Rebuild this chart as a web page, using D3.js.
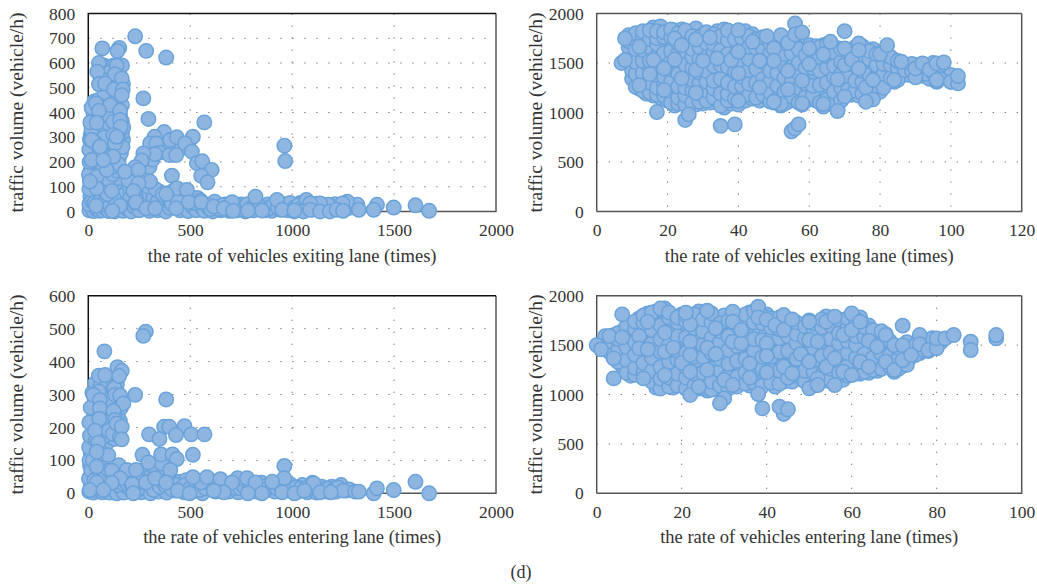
<!DOCTYPE html>
<html>
<head>
<meta charset="utf-8">
<script src="https://cdn.jsdelivr.net/npm/d3@7"></script>
<style>
  html, body { margin: 0; background: #fff; }
  svg text { font-family: "Liberation Serif", serif; fill: #333; }
</style>
</head>
<body>
<div id="chart"></div>
<script>
// tick labels
var ticksRateWide = [0, 500, 1000, 1500, 2000];
var ticksExitRate = [0, 20, 40, 60, 80, 100, 120];
var ticksEnterRate = [0, 20, 40, 60, 80, 100];
var ticksLowExit = [0, 100, 200, 300, 400, 500, 600, 700, 800];
var ticksLowEnter = [0, 100, 200, 300, 400, 500, 600];
var ticksVolume = [0, 500, 1000, 1500, 2000];

// top left panel, [rate, volume]
var exitLowBack = [
  [10,60],[22,75],[35,55],[48,70],[60,62],[15,100],[30,110],[45,95],[8,130],[25,140],[50,125],[65,115],
  [12,165],[28,170],[44,180],[60,160],[78,150],[18,200],[35,210],[52,195],[70,190],[90,170],[110,205],[130,190],[150,215],
  [15,235],[32,245],[48,255],[66,240],[85,230],[105,250],[125,240],[145,255],[160,235],
  [22,270],[40,285],[58,295],[76,270],[95,290],[115,280],[135,270],[155,285],[170,290],
  [12,310],[30,325],[50,335],[68,315],[88,330],[108,320],[128,340],[150,330],[165,315],
  [20,355],[38,375],[60,350],[80,370],[100,355],[120,385],[140,350],[165,365],
  [25,395],[45,420],[70,395],[90,405],[110,415],[135,400],[155,390],[30,445],[48,450],[118,440],[140,440],
  [75,545],[95,585],[120,575],[150,560],[155,520],[135,520],[105,520],[75,590],[60,570],[170,515],
  [5,5],[15,20],[25,2],[40,10],[55,3],[70,5],[85,15],[100,2],[115,8],[130,0],[150,10],[170,3],[190,12],[210,0],[225,20],
  [250,5],[270,25],[300,3],[320,30],[340,5],[360,25],[380,0],[400,15],[420,30],[450,5],[470,25],[490,2],[510,20],[530,5],
  [550,25],[570,3],[590,15],[610,0],[630,25],[650,5],[670,28],[690,3],[710,20],[730,5],[750,28],[770,0],[790,25],[810,5],
  [830,30],[860,8],[880,28],[900,3],[920,25],[940,8],[960,30],[980,5],[1000,30],[1020,8],[1040,35],[1060,5],[1080,30],
  [1100,8],[1120,32],[1150,10],[1170,25],[1190,8],[1210,30],[1230,10],[1260,32],
  [165,60],[180,90],[200,70],[215,100],[190,130],[170,120],[160,95],[130,40],[140,75],[110,50],[240,60],[260,85],[280,45],
  [300,70],[320,55],[340,40],[350,80],[375,55],[400,45],[430,60],[450,50],[470,85],[490,45],[510,35],[535,55],[460,70],
  [250,140],[225,150],[215,115],[230,35],[265,110],[550,45],[620,40]
];
var exitLowMid = [
  [5,30],[18,42],[30,35],[55,40],[72,30],[90,45],[108,25],[125,55],[78,85],[95,70],[110,95],[130,110],[150,135],[100,130],[120,150],[140,165],
  [5,90],[3,150],[6,200],[5,250],[8,290],[16,330],[10,360],[16,420],[70,225],[96,205],[120,180],[150,190],[168,260],[172,340],[78,300],[100,385],
  [145,300],[60,420],[90,440],[165,430],[150,465],[130,465],[110,480],[125,590],[100,560],[165,590],[80,480],[60,540],
  [295,100],[330,90],[365,70],[395,75],[420,85],[280,150],[300,180],[315,210],[360,260],[380,280],[400,255],[455,255],[490,270],[410,30],[440,40],
  [575,30],[600,10],[640,10],[660,25],[680,15],[700,5],[720,30],[740,15],[760,8],[780,30],[800,15],[820,25],[845,18],[870,5],[890,15],[910,30],
  [930,15],[950,25],[970,15],[990,35],[1010,15],[1030,25],[1050,15],[1070,20],[1090,15],[1110,20],[1130,15],[1160,20],[1200,15],[1220,18],[1240,22],[1280,15],[1300,25]
];
var exitLowFront = [
  [230,708],[284,649],[382,622],[69,659],[152,661],[143,649],[52,600],[139,589],[44,565],[131,555],[164,538],[52,515],[82,517],
  [126,493],[169,493],[164,470],[270,457],[38,437],[107,430],[52,407],[156,407],[295,374],[569,360],[41,359],[123,363],[156,370],
  [159,343],[123,309],[372,321],[402,289],[434,300],[513,302],[325,302],[303,275],[333,275],[349,238],[328,232],[398,228],[431,228],
  [475,275],[508,242],[270,235],[262,206],[533,195],[559,203],[605,168],[554,144],[585,118],[962,266],[966,204],[33,278],[49,228],
  [16,208],[41,141],[41,94],[8,121],[16,289],[131,275],[139,302],[123,222],[90,168],[74,208],[57,262],[230,179],[197,124],[303,121],
  [410,145],[434,94],[484,87],[180,161],[246,168],[246,114],[115,83],[221,83],[382,71],[1070,47],[1320,27],[1270,40],[1247,33],
  [1177,27],[1137,33],[1088,33],[1416,27],[1010,0],[1055,0],[1088,7],[1137,0],[1185,0],[1218,7],[1250,3],[1327,7],[1400,7],[1498,16],
  [1605,25],[1672,3],[156,23],[38,23],[234,38],[285,13],[328,13],[431,13],[493,38],[554,38],[615,20],[705,38],[820,60],[926,47],
  [783,4],[852,4],[951,7],[1011,4],[664,13],[118,3],[710,3]
];

// top right panel, [rate, [volumes]]
var exitHighBack = [
  [10,[1340,1420,1550,1680,1770]],[12,[1240,1300,1480,1600,1790]],[14,[1190,1350,1440,1560,1700,1810]],
  [16,[1170,1280,1470,1620,1780,1860]],[18,[1150,1320,1500,1640,1840,1870]],[20,[1120,1260,1380,1560,1700,1820]],
  [22,[1070,1180,1330,1480,1640,1830]],[24,[1090,1210,1430,1570,1780,1840]],[26,[1110,1290,1390,1510,1660,1810]],
  [28,[1080,1160,1340,1600,1700,1850]],[30,[1090,1240,1460,1620,1790]],[32,[1100,1190,1360,1490,1650,1760]],
  [34,[1120,1280,1430,1580,1720,1820]],[36,[1050,1140,1250,1400,1680,1840]],[38,[1090,1210,1360,1520,1640,1790]],
  [40,[1080,1300,1450,1700,1810]],[42,[1120,1240,1380,1590,1680,1820]],[44,[1140,1330,1480,1620,1790]],
  [46,[1120,1210,1400,1590,1680]],[48,[1150,1280,1460,1570,1730]],[50,[1100,1230,1360,1480,1690]],
  [52,[1070,1180,1300,1420,1600,1740]],[54,[1110,1240,1370,1510,1650]],[56,[1130,1280,1430,1560,1690]],
  [58,[1080,1210,1370,1520,1600]],[60,[1130,1300,1410,1560,1680]],[62,[1120,1240,1350,1500,1670]],
  [64,[1060,1190,1320,1460,1680]],[66,[1090,1250,1390,1510,1620]],[68,[1030,1160,1290,1420,1570,1650]],
  [70,[1200,1340,1440,1560]],[72,[1180,1290,1400,1620]],[74,[1170,1260,1360,1540,1680]],
  [76,[1120,1220,1350,1480,1610]],[78,[1200,1410,1540,1640]],[80,[1210,1310,1430,1530]],
  [82,[1330,1450,1590]],[84,[1310,1420,1530]],[86,[1400,1490]],[88,[1380,1470]],[90,[1400,1480]],
  [92,[1370,1450]],[94,[1340,1470]],[96,[1310,1440]],[98,[1390]],[100,[1310,1380]]
];
var exitHighMid = [
  [9,[1660,1720,1780]],[11,[1260,1390,1510,1640,1740,1800]],[13,[1220,1310,1400,1520,1630,1760,1820]],
  [15,[1200,1300,1420,1520,1660,1740,1830]],[17,[1180,1250,1380,1440,1570,1690,1750,1820]],[19,[1170,1290,1360,1540,1600,1760,1810]],
  [21,[1100,1220,1310,1440,1520,1620,1760,1840]],[23,[1090,1150,1260,1390,1530,1600,1700,1800]],[25,[1080,1170,1250,1360,1480,1620,1730,1830]],
  [27,[1100,1220,1330,1450,1560,1640,1770]],[29,[1110,1190,1300,1400,1540,1660,1760]],[31,[1120,1220,1310,1420,1560,1700,1810]],
  [33,[1150,1240,1320,1470,1610,1690,1790]],[35,[1070,1190,1340,1480,1630,1770]],[37,[1120,1190,1300,1460,1590,1730,1830]],
  [39,[1140,1260,1410,1570,1740]],[41,[1160,1270,1360,1500,1640,1750]],[43,[1180,1290,1430,1540,1660,1770]],
  [45,[1150,1300,1440,1650,1740]],[47,[1180,1340,1510,1640,1760]],[49,[1110,1200,1320,1420,1600,1700]],
  [51,[1140,1270,1400,1550,1650,1730]],[53,[1090,1210,1350,1470,1590,1700]],[55,[1160,1310,1460,1600,1720]],
  [57,[1100,1250,1400,1500,1640]],[59,[1160,1290,1450,1580]],[61,[1170,1270,1450,1610]],[63,[1100,1280,1420,1560,1660]],
  [65,[1130,1300,1450,1570,1690]],[67,[1080,1210,1350,1470,1610]],[69,[1120,1250,1390,1510,1640]],[71,[1230,1370,1490,1610]],
  [73,[1220,1320,1470,1590,1660]],[75,[1190,1310,1420,1580,1670]],[77,[1150,1280,1380,1540,1620]],[79,[1260,1370,1480,1590]],
  [81,[1250,1390,1490,1620]],[83,[1350,1480,1560]],[85,[1330,1450,1520]],[87,[1430]],[89,[1420,1490]],[91,[1420]],
  [93,[1390,1480]],[95,[1400,1500]],[97,[1340,1480]]
];
var exitHighFront = [
  [7,1500],[8,1530],[17,1005],[25,925],[26,980],[35,865],[39,880],[55,810],[56,840],[57,880],
  [8,1748],[12,1664],[16,1530],[15,1388],[19,1445],[12,1277],[19,1227],[24,1345],[22,1536],[22,1748],[24,1680],[28,1738],
  [28,1429],[28,1200],[30,1523],[32,1758],[34,1546],[40,1832],[44,1714],[48,1771],[50,1647],[50,1523],[46,1523],[38,1529],
  [40,1613],[40,1395],[40,1116],[46,1254],[52,1781],[54,1704],[54,1422],[54,1234],[56,1899],[56,1788],[58,1808],[58,1321],
  [60,1489],[60,1647],[64,1586],[66,1714],[68,1334],[70,1821],[70,1647],[70,1479],[70,1160],[72,1536],[74,1697],[74,1630],
  [74,1445],[76,1254],[78,1133],[78,1328],[80,1590],[82,1681],[86,1513],[84,1328],[90,1355],[90,1445],[92,1496],[94,1435],
  [96,1328],[96,1496],[98,1506],[100,1311],[102,1294],[102,1368],[64,1086],[68,1015],[76,1109],[58,1092],[52,1086],[50,1109]
];

// bottom left panel, [rate, volume]
var enterLowBack = [
  [8,85],[20,60],[35,75],[50,55],[12,120],[28,140],[44,110],[62,90],[78,130],[15,165],[32,180],[50,150],[68,170],[88,150],
  [18,210],[36,225],[55,205],[74,190],[92,180],[110,170],[130,165],[148,185],[25,250],[42,265],[62,240],[80,225],[100,215],
  [118,200],[138,195],[155,220],[30,290],[48,320],[70,300],[88,270],[106,255],[125,275],[145,240],[160,260],[95,330],[115,310],
  [75,340],[140,330],[150,300],
  [5,5],[12,22],[24,2],[38,12],[55,5],[70,3],[90,20],[105,2],[125,10],[140,0],[160,15],[175,2],[195,18],[215,5],[240,25],
  [260,3],[280,20],[305,0],[325,28],[345,5],[365,22],[385,2],[405,30],[425,8],[450,28],[470,3],[490,30],[510,5],[535,28],
  [560,0],[585,25],[605,35],[625,5],[645,30],[670,28],[690,5],[715,30],[735,3],[755,30],[775,8],[800,28],[825,5],[850,32],
  [870,8],[890,25],[915,5],[935,30],[970,8],[990,28],[1030,5],[1050,25],[1075,3],[1095,22],[1120,2],[1145,20],[1170,5],
  [1195,20],[1215,5],[1240,25],[1265,8],[130,60],[180,40],[200,55],[225,40],[250,50],[270,70],[310,60],[340,55],[370,70],
  [390,50],[420,35],[450,35],[480,40],[530,40],[310,85],[335,65],[360,90],[150,85],[1100,32]
];
var enterLowMid = [
  [3,45],[6,100],[14,70],[4,140],[8,175],[5,215],[12,260],[22,100],[30,40],[38,160],[55,120],[70,120],[60,60],[85,50],[100,70],[120,40],
  [20,305],[35,335],[58,325],[72,260],[90,235],[112,225],[130,250],[60,180],[80,175],[100,190],[120,180],[145,210],[155,170],[85,300],[105,285],[128,320],
  [150,25],[170,30],[190,30],[210,30],[240,10],[260,35],[300,35],[320,10],[350,20],[375,25],[410,12],[430,25],[455,15],[475,25],[500,15],[525,18],[545,10],
  [575,15],[595,40],[620,20],[635,35],[655,10],[680,15],[700,20],[725,15],[745,15],[765,20],[790,15],[810,12],[835,20],[860,20],[880,15],[905,20],[925,15],
  [945,20],[980,18],[1000,15],[1020,18],[1040,15],[1065,15],[1085,12],[1110,15],[1130,12],[1155,12],[1180,15],[1205,12],[1225,18],[1280,12]
];
var enterLowFront = [
  [282,491],[270,478],[79,431],[143,383],[164,372],[151,356],[52,357],[82,359],[52,309],[131,299],[230,299],[156,297],[25,299],
  [382,285],[172,273],[57,283],[57,258],[123,250],[54,226],[131,223],[33,190],[139,212],[164,202],[164,164],[49,154],[98,116],
  [41,126],[372,202],[397,202],[472,204],[430,177],[298,179],[349,165],[505,179],[570,179],[513,117],[266,117],[357,118],[413,118],
  [434,104],[295,94],[402,71],[115,69],[189,71],[234,71],[41,81],[41,33],[156,46],[115,32],[216,28],[284,33],[328,46],[382,33],
  [439,8],[497,0],[554,33],[513,49],[582,49],[648,43],[733,46],[779,46],[705,33],[820,33],[962,83],[961,46],[951,3],[852,0],[783,0],
  [1011,0],[664,3],[902,35],[615,8],[8,10],[74,10],[221,0],[1105,30],[1250,8],[1310,5],[1327,5],[1400,0],[1416,15],[1498,10],
  [1605,35],[1672,0],[1137,3],[1060,8],[1190,3]
];

// bottom right panel, [rate, [volumes]]
var enterHighBack = [
  [2,[1480,1590]],[4,[1370,1500,1600]],[6,[1290,1420,1500,1640]],[8,[1190,1300,1440,1590,1700]],[10,[1210,1340,1520,1650,1770]],
  [12,[1170,1280,1430,1580,1680,1820]],[14,[1070,1180,1310,1490,1630,1840]],[16,[1090,1250,1390,1560,1700,1870]],
  [18,[1070,1170,1300,1460,1620,1790]],[20,[1120,1220,1380,1540,1680,1810]],[22,[1100,1330,1470,1620,1780]],
  [24,[1060,1170,1290,1420,1590,1840]],[26,[1040,1140,1350,1530,1700,1790]],[28,[1060,1190,1300,1470,1600,1760]],
  [30,[1070,1240,1380,1530,1680,1800]],[32,[1120,1250,1440,1620,1780]],[34,[1140,1280,1430,1590,1760]],
  [36,[1090,1230,1390,1510,1640,1830]],[38,[1070,1190,1330,1480,1600,1830]],[40,[1140,1320,1440,1640,1810]],
  [42,[1080,1190,1310,1470,1590,1700]],[44,[1130,1220,1390,1520,1710]],[46,[1130,1330,1480,1620]],
  [48,[1170,1290,1500,1660]],[50,[1180,1290,1430,1620,1750]],[52,[1120,1240,1380,1480,1630]],
  [54,[1140,1330,1500,1610,1790]],[56,[1180,1300,1450,1660]],[58,[1150,1330,1480,1710]],[60,[1250,1380,1510,1720]],
  [62,[1210,1330,1450,1620,1780]],[64,[1220,1400,1650,1700]],[66,[1240,1340,1440,1590]],[68,[1280,1380,1520,1610]],
  [70,[1230,1340,1440]],[72,[1290,1410]],[74,[1380,1470]],[76,[1420]],[78,[1440,1540]]
];
var enterHighMid = [
  [3,[1430,1540]],[5,[1330,1450,1560,1620]],[7,[1220,1350,1480,1640,1690]],[9,[1200,1270,1400,1530,1660,1740]],
  [11,[1230,1320,1470,1610,1730,1800]],[13,[1130,1240,1370,1520,1650,1780,1830]],[15,[1060,1160,1280,1430,1560,1700,1870]],
  [17,[1080,1170,1330,1500,1650,1780,1830]],[19,[1090,1210,1350,1440,1590,1730,1780]],[21,[1060,1170,1280,1420,1580,1740,1800]],
  [23,[1090,1210,1380,1540,1670,1810]],[25,[1070,1220,1380,1500,1640,1760]],[27,[1050,1130,1260,1420,1570,1730,1820]],
  [29,[1090,1240,1360,1530,1640,1720]],[31,[1060,1190,1310,1450,1590,1750]],[33,[1080,1180,1340,1490,1700,1790]],
  [35,[1110,1220,1360,1560,1710,1810]],[37,[1120,1260,1440,1560,1730,1840]],[39,[1090,1260,1380,1550,1720,1800]],
  [41,[1120,1260,1380,1560,1680,1770]],[43,[1110,1240,1430,1570,1660,1780]],[45,[1170,1280,1440,1590,1720]],
  [47,[1210,1360,1520,1610,1730]],[49,[1130,1240,1390,1570,1690]],[51,[1090,1230,1340,1470,1660,1720]],
  [53,[1200,1390,1560,1680,1760]],[55,[1150,1260,1420,1560,1700]],[57,[1220,1400,1520,1620,1760]],
  [59,[1190,1290,1420,1540,1680,1770]],[61,[1210,1370,1500,1590,1760]],[63,[1230,1410,1580,1680]],
  [65,[1250,1370,1520,1650]],[67,[1260,1410,1530,1640]],[69,[1280,1400,1540]],[71,[1260,1370,1470]],[73,[1300,1440,1530]],
  [75,[1400,1500]],[77,[1450,1530]],[79,[1480,1570]],[81,[1530]]
];
var enterHighFront = [
  [0,1500],[1,1457],[3,1592],[4,1163],[6,1811],[6,1578],[4,1366],[10,1592],[10,1467],[12,1737],[12,1457],[11,1163],[16,1626],[16,1433],
  [16,1197],[18,1474],[20,1322],[22,1710],[22,1535],[22,1400],[22,1231],[22,995],[21,1828],[24,1079],[26,1848],[26,1474],[26,1248],
  [28,1670],[28,1410],[30,960],[29,911],[30,1147],[32,1838],[32,1737],[32,1535],[34,1518],[34,1653],[32,1096],[36,1315],[36,1170],
  [38,1889],[38,1781],[38,1005],[39,860],[40,1760],[40,1518],[40,1390],[40,1224],[42,1703],[44,1804],[44,1653],[44,1281],[44,803],
  [43,877],[45,850],[46,1760],[46,1214],[48,1410],[50,1551],[50,1737],[50,1332],[50,1062],[52,1535],[52,1163],[52,1096],[54,1281],
  [54,1737],[56,1366],[56,1096],[56,1787],[58,1602],[58,1231],[60,1821],[60,1653],[60,1197],[62,1737],[62,1332],[64,1545],[64,1281],
  [66,1484],[68,1602],[68,1332],[70,1248],[70,1500],[72,1697],[72,1500],[72,1349],[76,1602],[76,1508],[74,1400],[78,1450],[80,1467],
  [80,1568],[82,1568],[84,1602],[88,1535],[88,1450],[94,1568],[94,1602]
];

var labelVolume = 'traffic volume (vehicle/h)';
var labelExit = 'the rate of vehicles exiting lane (times)';
var labelEnter = 'the rate of vehicles entering lane (times)';

function expandColumns(columns) {
  return columns.flatMap(function (c) {
    return c[1].map(function (v) { return [c[0], v]; });
  });
}

var panels = [
  { left: 88.3, right: 496, top: 13.5, bottom: 211.5, xTicks: ticksRateWide, yTicks: ticksLowExit,
    points: exitLowBack.concat(exitLowMid, exitLowFront), xLabel: labelExit, dark: true, labelGap: 65 },
  { left: 596.7, right: 1021.7, top: 13.5, bottom: 211.5, xTicks: ticksExitRate, yTicks: ticksVolume,
    points: expandColumns(exitHighBack).concat(expandColumns(exitHighMid), exitHighFront), xLabel: labelExit, dark: false, labelGap: 55 },
  { left: 88.3, right: 496, top: 295.7, bottom: 493.3, xTicks: ticksRateWide, yTicks: ticksLowEnter,
    points: enterLowBack.concat(enterLowMid, enterLowFront), xLabel: labelEnter, dark: true, labelGap: 65 },
  { left: 596.7, right: 1021.7, top: 295.7, bottom: 493.3, xTicks: ticksEnterRate, yTicks: ticksVolume,
    points: expandColumns(enterHighBack).concat(expandColumns(enterHighMid), enterHighFront), xLabel: labelEnter, dark: false, labelGap: 55 }
];

var svg = d3.select('#chart').append('svg')
  .attr('width', 1037)
  .attr('height', 588)
  .style('display', 'block');

panels.forEach(function (p) {
  var xTop = p.xTicks[p.xTicks.length - 1];
  var yTop = p.yTicks[p.yTicks.length - 1];
  var x = d3.scaleLinear().domain([0, xTop]).range([p.left, p.right]);
  var y = d3.scaleLinear().domain([0, yTop]).range([p.bottom, p.top]);
  var g = svg.append('g');

  // dotted grid
  g.selectAll('.grid-x').data(p.xTicks.slice(1, -1)).join('line')
    .attr('class', 'grid-x')
    .attr('x1', function (d) { return x(d); }).attr('x2', function (d) { return x(d); })
    .attr('y1', p.top).attr('y2', p.bottom)
    .attr('stroke', '#666').attr('stroke-width', 1).attr('stroke-dasharray', '1.2 10.8');
  g.selectAll('.grid-y').data(p.yTicks.slice(1, -1)).join('line')
    .attr('class', 'grid-y')
    .attr('y1', function (d) { return y(d); }).attr('y2', function (d) { return y(d); })
    .attr('x1', p.left).attr('x2', p.right)
    .attr('stroke', '#666').attr('stroke-width', 1).attr('stroke-dasharray', '1.2 10.8');

  // frame
  g.append('path')
    .attr('d', 'M' + p.right + ',' + p.top + 'V' + p.bottom + 'H' + p.left)
    .attr('fill', 'none').attr('stroke', '#555').attr('stroke-width', 1.5);
  g.append('path')
    .attr('d', 'M' + p.left + ',' + p.bottom + 'V' + p.top + 'H' + p.right)
    .attr('fill', 'none').attr('stroke', p.dark ? '#111' : '#555').attr('stroke-width', 1.5);

  var xAxis = g.append('g')
    .attr('transform', 'translate(0,' + p.bottom + ')')
    .call(d3.axisBottom(x).tickValues(p.xTicks).tickSize(0).tickPadding(12).tickFormat(d3.format('d')));
  var yAxis = g.append('g')
    .attr('transform', 'translate(' + p.left + ',0)')
    .call(d3.axisLeft(y).tickValues(p.yTicks).tickSize(0).tickPadding(13).tickFormat(d3.format('d')));
  [xAxis, yAxis].forEach(function (a) {
    a.select('.domain').remove();
    a.selectAll('text').attr('font-size', 17.5).attr('font-family', '"Liberation Serif", serif').style('fill', '#333');
  });

  g.selectAll('circle').data(p.points).join('circle')
    .attr('cx', function (d) { return x(d[0]); })
    .attr('cy', function (d) { return y(d[1]); })
    .attr('r', 7.2)
    .attr('fill', '#8fb5e1')
    .attr('stroke', '#69a3da')
    .attr('stroke-width', 1.5);

  g.append('text')
    .attr('x', (p.left + p.right) / 2)
    .attr('y', p.bottom + 50)
    .attr('text-anchor', 'middle')
    .attr('font-size', 18.5)
    .text(p.xLabel);
  g.append('text')
    .attr('transform', 'translate(' + (p.left - p.labelGap) + ',' + ((p.top + p.bottom) / 2) + ') rotate(-90)')
    .attr('text-anchor', 'middle')
    .attr('font-size', 19.5)
    .text(labelVolume);
});

svg.append('text')
  .attr('x', 521)
  .attr('y', 578)
  .attr('text-anchor', 'middle')
  .attr('font-size', 18)
  .text('(d)');
</script>
</body>
</html>
